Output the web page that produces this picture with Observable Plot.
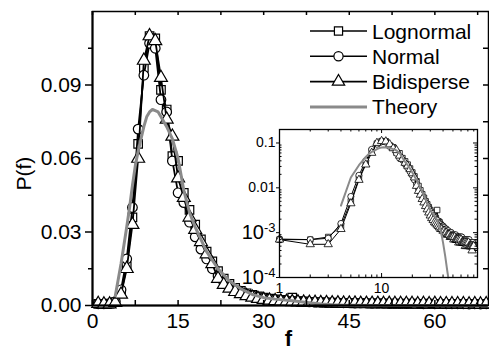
<!DOCTYPE html>
<html><head><meta charset="utf-8">
<script src="https://cdn.jsdelivr.net/npm/d3@7"></script>
<script src="https://cdn.jsdelivr.net/npm/@observablehq/plot@0.6"></script>
<style>
body{margin:0;background:#fff;}
#wrap{position:relative;width:489px;height:350px;overflow:hidden;background:#fff;}
#wrap svg{position:absolute;left:0;top:0;}
</style></head><body><div id="wrap"></div>
<script>
// ---------- data ----------
const fValues = [1,2,3,4,5,6,7,8,9,10,11,12,13,14,15,16,17,18,19,20,21,22,23,24,25,26,27,28,29,30,31,32,33,34,35,36,37,38,39,40,41,42,43,44,45,46,47,48,49,50,51,52,53,54,55,56,57,58,59,60,61,62,63,64,65,66,67,68,69,70,71,72,73,74,75,76,77,78,79,80];
const lognormal = [0.0007,0.0007,0.0008,0.0014,0.0050,0.016,0.036,0.066,0.097,0.110,0.109,0.088,0.080,0.061,0.059,0.046,0.039,0.033,0.027,0.022,0.018,0.0140,0.0110,0.0088,0.0072,0.0060,0.0050,0.0043,0.0037,0.0032,0.0028,0.0025,0.0023,0.0021,0.0032,0.0018,0.0017,0.0015,0.0014,0.0013,0.0012,0.0012,0.0011,0.0010,0.0010,0.0009,0.0010,0.0009,0.0008,0.0009,0.0008,0.0008,0.0007,0.0008,0.0007,0.0008,0.0007,0.0007,0.0008,0.0007,0.0007,0.0006,0.0007,0.0007,0.0006,0.0007,0.0006,0.0006,0.0007,0.0006,0.0006,0.0005,0.0006,0.0006,0.0005,0.0006,0.0005,0.0005,0.0006,0.0005];
const normal = [0.00072,0.00070,0.00075,0.0016,0.0064,0.019,0.040,0.072,0.094,0.107,0.105,0.084,0.079,0.059,0.046,0.042,0.034,0.028,0.023,0.019,0.015,0.0120,0.0095,0.0078,0.0064,0.0054,0.0046,0.0040,0.0034,0.0030,0.0027,0.0024,0.0022,0.0020,0.0019,0.0017,0.0016,0.0015,0.0014,0.0014,0.0013,0.0012,0.0012,0.0011,0.0011,0.0010,0.0010,0.0010,0.0009,0.0009,0.0009,0.0008,0.0009,0.0008,0.0008,0.0008,0.0008,0.0007,0.0008,0.0007,0.0008,0.0007,0.0007,0.0007,0.0007,0.0006,0.0007,0.0006,0.0007,0.0006,0.0006,0.0007,0.0006,0.0006,0.0006,0.0005,0.0006,0.0006,0.0005,0.0005];
const bidisperse = [0.00070,0.00055,0.00055,0.0012,0.0045,0.015,0.033,0.060,0.100,0.110,0.108,0.093,0.076,0.069,0.052,0.044,0.036,0.031,0.026,0.021,0.017,0.0110,0.0085,0.0070,0.0056,0.0047,0.0039,0.0033,0.0028,0.0024,0.0021,0.0019,0.0017,0.0016,0.0015,0.0014,0.0013,0.0012,0.0012,0.0011,0.0011,0.0010,0.0010,0.0009,0.0009,0.0009,0.0008,0.0008,0.0008,0.0008,0.0007,0.0008,0.0007,0.0007,0.0007,0.0007,0.0006,0.0007,0.0006,0.0007,0.0006,0.0006,0.0006,0.0006,0.0006,0.0005,0.0006,0.0005,0.0006,0.0005,0.0006,0.0005,0.0005,0.0005,0.0005,0.0005,0.0004,0.0005,0.0005,0.0005];
const theoryF = [4,5,6,6.5,7,7.5,8,8.5,9,9.5,10,10.5,11,11.5,12,13,14,15,16,17,18,19,20,22,24,26,28,30,32,35,38,40,42,44,45,50,60,69];
const theoryP = [0.004,0.017,0.032,0.040,0.049,0.057,0.063,0.068,0.073,0.077,0.079,0.080,0.0795,0.079,0.077,0.073,0.068,0.060,0.047,0.038,0.032,0.027,0.022,0.015,0.0100,0.0068,0.0045,0.0032,0.0026,0.0019,0.0011,0.0006,0.0003,0.00014,0.0001,0.00005,0.00003,0.00002];

const seriesNames = ["Lognormal","Normal","Bidisperse"];
const seriesSymbols = ["square","circle","triangle"];
const xTicks = [0,15,30,45,60];
const xMinorTicks = [0,7.5,15,22.5,30,37.5,45,52.5,60,67.5];
const yTicks = [0,0.03,0.06,0.09];
const yMinorTicks = [0.015,0.045,0.075,0.105];
const yAllTicks = [0.015,0.03,0.045,0.06,0.075,0.09,0.105];
const insetXTicks = [1,10];
const insetXMinor = [2,3,4,5,6,7,8,9,20,30,40,50,60,70,80];
const insetYTicks = [0.1,0.01,0.001,0.0001];
const insetYLabels = ["0.1","0.01","10^-3","10^-4"];
const insetYMinor = [0.0002,0.0003,0.0004,0.0005,0.0006,0.0007,0.0008,0.0009,0.002,0.003,0.004,0.005,0.006,0.007,0.008,0.009,0.02,0.03,0.04,0.05,0.06,0.07,0.08,0.09,0.2];

// ---------- tables ----------
const seriesValues = [lognormal, normal, bidisperse];
const rows = [];
seriesNames.forEach((s, i) => fValues.forEach((f, j) => rows.push({series: s, f, p: seriesValues[i][j]})));
const theory = theoryF.map((f, i) => ({f, p: theoryP[i]}));

const W = 489, H = 350;
const M = {top: 11, right: 1, bottom: 45, left: 92};
const innerW = W - M.left - M.right, innerH = H - M.top - M.bottom;
const XMAX = 69.4;
const grey = "#8a8a8a";
const font = "'Liberation Sans', Arial, Helvetica, sans-serif";

const mainRows = rows.filter(d => d.f <= XMAX);
const seriesMarks = (data, r, sw, lw) => seriesNames.flatMap((s, i) => {
  const d = data.filter(e => e.series === s);
  return [
    Plot.line(d, {x: "f", y: "p", stroke: "black", strokeWidth: lw}),
    Plot.dot(d, {x: "f", y: "p", symbol: seriesSymbols[i], r, fill: "white", stroke: "black", strokeWidth: sw})
  ];
});

const main = Plot.plot({
  width: W, height: H,
  marginTop: M.top, marginRight: M.right, marginBottom: M.bottom, marginLeft: M.left,
  x: {domain: [0, XMAX]},
  y: {domain: [0, 0.12]},
  style: {fontFamily: font, fontSize: "21px", color: "black", background: "transparent", overflow: "visible"},
  marks: [
    ...seriesMarks(mainRows, 4.8, 1.2, 1.8),
    Plot.line(theory, {x: "f", y: "p", stroke: grey, strokeWidth: 3}),
    Plot.frame({stroke: "black", strokeWidth: 1.5}),
    Plot.ruleX([0], {stroke: "black", strokeWidth: 2}),
    Plot.ruleY([0], {stroke: "black", strokeWidth: 2}),
    Plot.axisY({ticks: yTicks, tickFormat: d3.format(".2f"), tickSize: 7, tickPadding: 4, label: null, strokeWidth: 1.5}),
    Plot.axisY({ticks: yMinorTicks, tickFormat: () => "", tickSize: 4, label: null, strokeWidth: 1.5}),
    Plot.axisX({ticks: xTicks, tickSize: 0, tickPadding: 8, label: null}),
    Plot.tickX(xMinorTicks, {x: d => d, insetTop: innerH - 5, strokeWidth: 1.5}),
    Plot.tickX(xMinorTicks, {x: d => d, insetBottom: innerH - 4, strokeWidth: 1.5}),
    Plot.tickY(yAllTicks, {y: d => d, insetLeft: innerW - 5, strokeWidth: 1.5}),
    Plot.text(["P(f)"], {text: d => d, frameAnchor: "left", rotate: -90, dx: -68, dy: 32, fontSize: 21}),
    Plot.text(["f"], {text: d => d, frameAnchor: "bottom", dy: 40, dx: -2, fontSize: 22, fontWeight: "bold"})
  ]
});

// ---------- inset ----------
const IM = {top: 129, right: 12, bottom: 73, left: 279};
const iW = W - IM.left - IM.right, iH = H - IM.top - IM.bottom;
const insetRows = rows.filter(d => d.p >= 1e-4);
const insetTheory = theory.filter(d => d.p >= 1e-4);
const inset = Plot.plot({
  width: W, height: H,
  marginTop: IM.top, marginRight: IM.right, marginBottom: IM.bottom, marginLeft: IM.left,
  x: {type: "log", domain: [1, 87]},
  y: {type: "log", domain: [1e-4, 0.2]},
  style: {fontFamily: font, fontSize: "14px", color: "black", background: "transparent", overflow: "visible"},
  marks: [
    Plot.frame({fill: "white"}),
    ...seriesMarks(insetRows, 3.1, 0.8, 1),
    Plot.line(insetTheory, {x: "f", y: "p", stroke: grey, strokeWidth: 2}),
    Plot.frame({stroke: "black", strokeWidth: 1.3}),
    Plot.axisY({ticks: insetYTicks, tickFormat: d => insetYLabels[insetYTicks.indexOf(d)], tickSize: 3, tickPadding: 1, label: null}),
    Plot.axisX({ticks: insetXTicks, tickFormat: d => String(d), tickSize: 0, tickPadding: 6, label: null}),
    Plot.tickX(insetXTicks, {x: d => d, insetTop: iH - 4}),
    Plot.tickX(insetXTicks, {x: d => d, insetBottom: iH - 4}),
    Plot.tickX(insetXMinor, {x: d => d, insetTop: iH - 2.5}),
    Plot.tickX(insetXMinor, {x: d => d, insetBottom: iH - 2.5}),
    Plot.tickY(insetYTicks, {y: d => d, insetLeft: iW - 4}),
    Plot.tickY(insetYMinor, {y: d => d, insetLeft: iW - 2.5}),
    Plot.tickY(insetYMinor, {y: d => d, insetRight: iW - 2.5})
  ]
});
// superscript exponents for 10^-n labels
inset.querySelectorAll("text").forEach(t => {
  const m = /^10\^(.+)$/.exec(t.textContent);
  if (m) {
    t.textContent = "10";
    t.setAttribute("font-size", "20px");
    const ts = document.createElementNS("http://www.w3.org/2000/svg", "tspan");
    ts.setAttribute("font-size", "13px");
    ts.setAttribute("dy", "-0.55em");
    ts.textContent = m[1];
    t.appendChild(ts);
  }
});

const wrap = document.getElementById("wrap");
wrap.appendChild(main);
wrap.appendChild(inset);

// ---------- legend ----------
const leg = d3.select(wrap).append("svg").attr("width", W).attr("height", H)
  .style("font-family", font).style("font-size", "21px");
const legRows = [
  {name: "Lognormal", sym: d3.symbolSquare},
  {name: "Normal", sym: d3.symbolCircle},
  {name: "Bidisperse", sym: d3.symbolTriangle},
  {name: "Theory", sym: null}
];
const legY0 = 31, legDy = 25.3;
legRows.forEach((r, i) => {
  const y = legY0 + i * legDy;
  const g = leg.append("g").attr("transform", `translate(0,${y})`);
  g.append("line").attr("x1", 310).attr("x2", 367).attr("y1", 0).attr("y2", 0)
    .attr("stroke", r.sym ? "black" : grey).attr("stroke-width", r.sym ? 1.6 : 3);
  if (r.sym) g.append("path").attr("transform", "translate(338.5,0)")
    .attr("d", d3.symbol(r.sym, Math.PI * 4.6 * 4.6)()).attr("fill", "white").attr("stroke", "black").attr("stroke-width", 1.2);
  g.append("text").attr("x", 372).attr("dy", "0.36em").text(r.name);
});
</script></body></html>
